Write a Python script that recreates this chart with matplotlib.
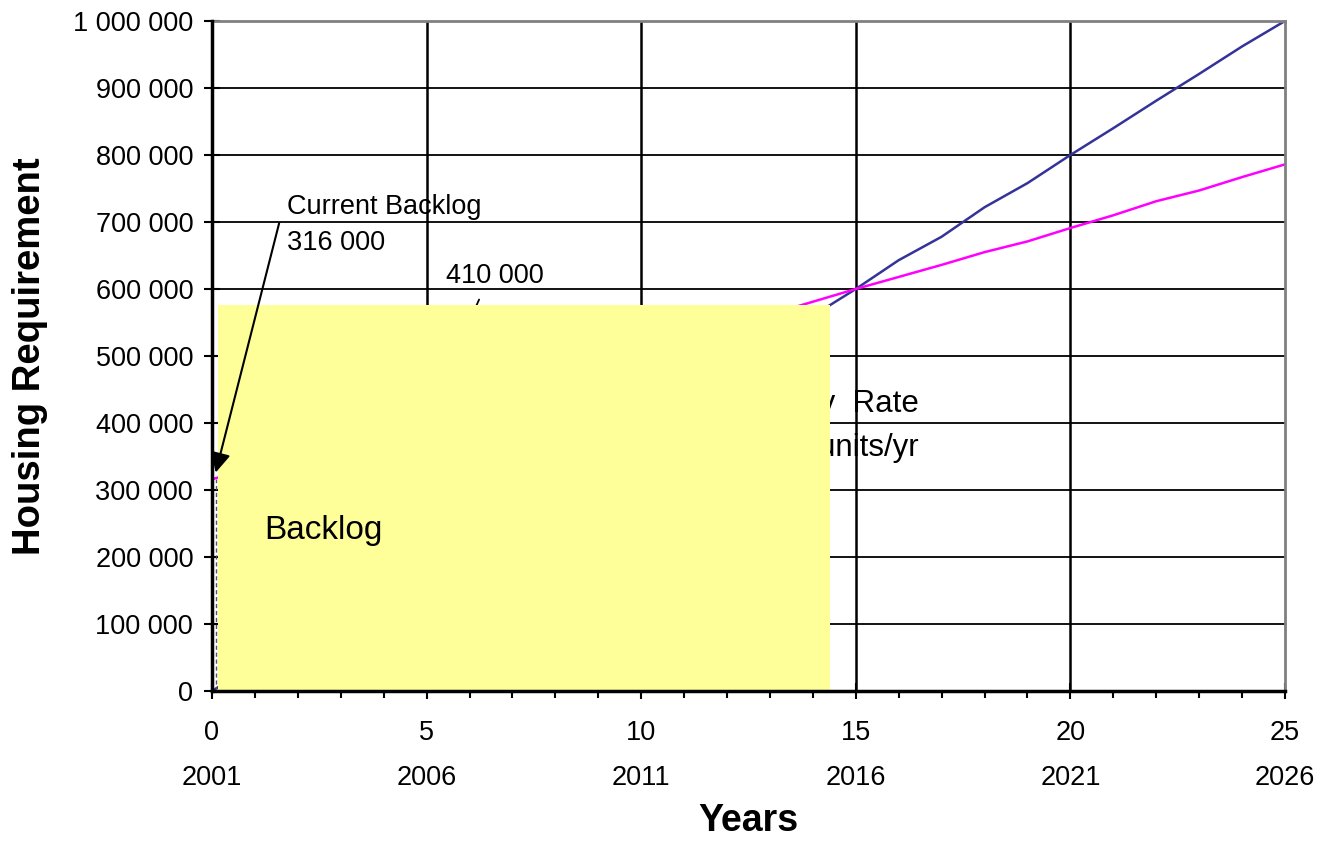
import matplotlib.pyplot as plt
from matplotlib.patches import Rectangle
from matplotlib.ticker import FuncFormatter, MultipleLocator

# data
years_offset = list(range(0, 26))
requirement = [0, 40000, 80000, 121000, 160000, 200000, 241000, 280000, 320000,
               361000, 400000, 440000, 481000, 520000, 560000, 600000, 643000,
               678000, 722000, 758000, 800000, 840000, 881000, 921000, 962000,
               1000000]
delivery = [316000, 335000, 354000, 373000, 391000, 410000, 429000, 448000,
            467000, 486000, 505000, 524000, 543000, 562000, 581000, 600000,
            618000, 636000, 655000, 671000, 691000, 710000, 731000, 747000,
            767000, 786000]
major_x = [0, 5, 10, 15, 20, 25]
calendar_years = [2001, 2006, 2011, 2016, 2021, 2026]
backlog = 316000
point_2006 = 410000

plt.rcParams['font.family'] = ['Liberation Sans', 'DejaVu Sans']

fig = plt.figure(figsize=(13.29, 8.42), dpi=100)
ax = fig.add_axes([0.1595, 0.1793, 0.8074, 0.7958])

ax.set_xlim(0, 25)
ax.set_ylim(0, 1000000)

# grid
for y in range(100000, 1000001, 100000):
    ax.axhline(y, color='black', lw=1.3, zorder=1)
for x in major_x[1:-1]:
    ax.axvline(x, color='black', lw=1.8, zorder=1)

ax.plot(years_offset, requirement, color='#333399', lw=1.8, zorder=2)
ax.plot(years_offset, delivery, color='#FF00FF', lw=1.8, zorder=2)
ax.plot([0.1, 0.1], [0, backlog], color='#555555', lw=1.0, ls=(0, (3, 2)), zorder=2)

# text partly hidden behind the yellow box
ax.text(16.47, 429000, 'Delivery  Rate', fontsize=22.5, ha='right', va='center', zorder=3)
ax.text(16.47, 362000, '19 000 units/yr', fontsize=22.5, ha='right', va='center', zorder=3)
ax.annotate('', xy=(5, point_2006), xytext=(6.25, 588000),
            arrowprops=dict(arrowstyle='-|>', color='black', lw=1.3), zorder=3)
ax.text(5.45, 620000, '410 000', fontsize=19.5, ha='left', va='center', zorder=3)

ax.add_patch(Rectangle((0.14, 0), 14.26, 576000, facecolor='#FFFF99',
                       edgecolor='none', zorder=5))

ax.text(1.22, 240000, 'Backlog', fontsize=24, ha='left', va='center', zorder=6)
ax.text(1.75, 722000, 'Current Backlog', fontsize=19.5, ha='left', va='center', zorder=6)
ax.text(1.75, 669000, '316 000', fontsize=19.5, ha='left', va='center', zorder=6)
ax.annotate('', xy=(0.07, 322000), xytext=(1.58, 702000),
            arrowprops=dict(arrowstyle='-|>', color='black', lw=1.5,
                            mutation_scale=30), zorder=6)

# axes styling
ax.yaxis.set_major_locator(MultipleLocator(100000))
ax.yaxis.set_major_formatter(FuncFormatter(lambda v, p: f"{v:,.0f}".replace(",", " ")))
ax.set_xticks(major_x)
ax.set_xticklabels([f"{x}\n{y}" for x, y in zip(major_x, calendar_years)], linespacing=1.95)
ax.xaxis.set_minor_locator(MultipleLocator(1))
ax.tick_params(axis='y', direction='inout', length=11, width=1.5, labelsize=19.5, pad=8)
ax.tick_params(axis='x', which='major', direction='inout', length=11, width=1.5,
               labelsize=19.5, pad=15)
ax.tick_params(axis='x', which='minor', direction='out', length=5, width=1.5)

for s in ['left', 'bottom']:
    ax.spines[s].set_linewidth(2.5)
    ax.spines[s].set_zorder(7)
for s in ['top', 'right']:
    ax.spines[s].set_color('#808080')
    ax.spines[s].set_linewidth(2.0)

ax.set_xlabel('Years', fontsize=27, fontweight='bold', labelpad=9)
ax.set_ylabel('Housing Requirement', fontsize=27.5, fontweight='bold', labelpad=18)

fig.savefig('out.png', dpi=100)
